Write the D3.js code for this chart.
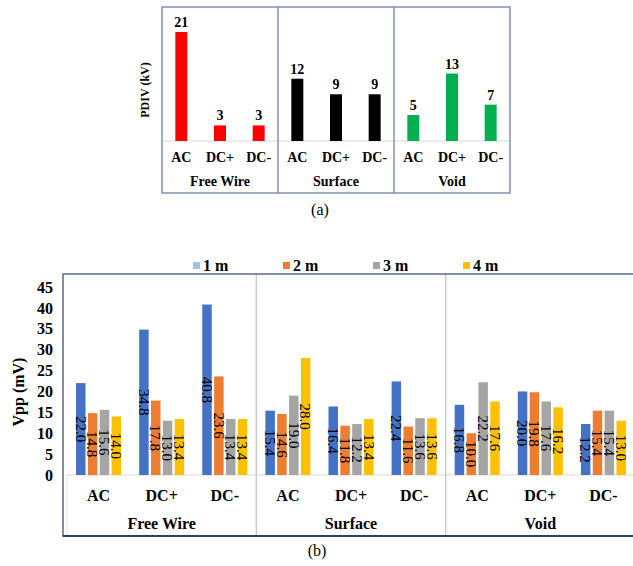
<!DOCTYPE html>
<html>
<head>
<meta charset="utf-8">
<script src="https://cdn.jsdelivr.net/npm/d3@7"></script>
<style>
  body { margin: 0; background: #fff; }
</style>
</head>
<body>
<div id="chart"></div>
<script>
// category / group names shared by both panels
const modes = ['AC', 'DC+', 'DC-'];
const defects = ['Free Wire', 'Surface', 'Void'];

// panel (a): PDIV in kV, one value per defect/mode
const pdivValues = [21, 3, 3, 12, 9, 9, 5, 13, 7];
const defectColors = ['#FF0000', '#000000', '#00B050'];

// panel (b): Vpp in mV per distance series
const seriesNames = ['1 m', '2 m', '3 m', '4 m'];
const vpp1m = [22.0, 34.8, 40.8, 15.4, 16.4, 22.4, 16.8, 20.0, 12.2];
const vpp2m = [14.8, 17.8, 23.6, 14.6, 11.8, 11.6, 10.0, 19.8, 15.4];
const vpp3m = [15.6, 13.0, 13.4, 19.0, 12.2, 13.6, 22.2, 17.6, 15.4];
const vpp4m = [14.0, 13.4, 13.4, 28.0, 13.4, 13.6, 17.6, 16.2, 13.0];
const vppTicks = [0, 5, 10, 15, 20, 25, 30, 35, 40, 45];
const seriesColors = ['#4472C4', '#ED7D31', '#A5A5A5', '#FFC000'];
const legendColors = ['#9DC3E6', '#ED7D31', '#A5A5A5', '#FFC000'];

const FONT = '"Liberation Serif"';
const W = 633, H = 566;
const svg = d3.select('#chart').append('svg')
    .attr('width', W).attr('height', H)
    .style('display', 'block');

const cats = d3.range(9);

// ---------- panel (a) ----------
const a = { left: 162, right: 510, top: 7, bottom: 193, base: 141 };
const xa = d3.scaleBand().domain(cats).range([a.left, a.right]);
const ya = d3.scaleLinear().domain([0, 21]).range([a.base, 32]);

const gA = svg.append('g');

gA.append('line')
    .attr('x1', a.left).attr('x2', a.right)
    .attr('y1', a.base).attr('y2', a.base)
    .attr('stroke', '#d9d9d9').attr('stroke-width', 1);

const barW = 12;
gA.selectAll('rect.pdiv')
    .data(pdivValues)
    .join('rect')
    .attr('class', 'pdiv')
    .attr('x', (d, i) => xa(i) + xa.bandwidth() / 2 - barW / 2)
    .attr('width', barW)
    .attr('y', d => ya(d))
    .attr('height', d => a.base - ya(d))
    .attr('fill', (d, i) => defectColors[Math.floor(i / 3)]);

gA.selectAll('text.pval')
    .data(pdivValues)
    .join('text')
    .attr('class', 'pval')
    .attr('x', (d, i) => xa(i) + xa.bandwidth() / 2)
    .attr('y', d => ya(d) - 5)
    .attr('text-anchor', 'middle')
    .attr('font-size', 14).attr('font-weight', 'bold')
    .text(d => d);

gA.selectAll('text.pcat')
    .data(cats)
    .join('text')
    .attr('class', 'pcat')
    .attr('x', i => xa(i) + xa.bandwidth() / 2)
    .attr('y', 162)
    .attr('text-anchor', 'middle')
    .attr('font-size', 14).attr('font-weight', 'bold')
    .text(i => modes[i % 3]);

gA.selectAll('text.pgrp')
    .data(defects)
    .join('text')
    .attr('class', 'pgrp')
    .attr('x', (d, j) => xa(j * 3) + xa.bandwidth() * 1.5)
    .attr('y', 186)
    .attr('text-anchor', 'middle')
    .attr('font-size', 14).attr('font-weight', 'bold')
    .text(d => d);

// dividers between groups
[3, 6].forEach(i => {
    gA.append('line')
        .attr('x1', xa(i)).attr('x2', xa(i))
        .attr('y1', a.top).attr('y2', a.bottom)
        .attr('stroke', '#8190ab').attr('stroke-width', 1.5);
});

gA.append('rect')
    .attr('x', a.left).attr('y', a.top)
    .attr('width', a.right - a.left).attr('height', a.bottom - a.top)
    .attr('fill', 'none').attr('stroke', '#8190ab').attr('stroke-width', 1.5);

gA.append('text')
    .attr('transform', `translate(149,90) rotate(-90)`)
    .attr('text-anchor', 'middle')
    .attr('font-size', 12).attr('font-weight', 'bold')
    .text('PDIV (kV)');

svg.append('text')
    .attr('x', 320).attr('y', 215)
    .attr('text-anchor', 'middle')
    .attr('font-size', 16)
    .text('(a)');

// ---------- panel (b) ----------
const b = { frameLeft: 63, left: 67, right: 635, top: 274, bottom: 536, base: 475 };
const vppSeries = [vpp1m, vpp2m, vpp3m, vpp4m];
const xb = d3.scaleBand().domain(cats).range([b.left, b.right]);
const xs = d3.scaleBand().domain(d3.range(4)).range([-22.5, 22.5]).paddingInner(0.2);
const yb = d3.scaleLinear().domain([0, 45]).range([b.base, 287]);

const gB = svg.append('g');

// legend
const legend = gB.selectAll('g.leg')
    .data(seriesNames)
    .join('g')
    .attr('class', 'leg')
    .attr('transform', (d, i) => `translate(${193 + i * 90},262)`);
legend.append('rect')
    .attr('width', 7).attr('height', 7)
    .attr('fill', (d, i) => legendColors[i]);
legend.append('text')
    .attr('x', 10).attr('y', 8.5)
    .attr('font-size', 16).attr('font-weight', 'bold')
    .text(d => d);

// y axis
const yAxis = d3.axisLeft(yb).tickValues(vppTicks).tickSize(0).tickPadding(0);
gB.append('g')
    .attr('transform', 'translate(53,0)')
    .call(yAxis)
    .call(g => g.select('.domain').remove())
    .selectAll('text')
    .attr('font-size', 16).attr('font-weight', 'bold')
    .attr('fill', '#000');

gB.append('text')
    .attr('transform', 'translate(24,392) rotate(-90)')
    .attr('text-anchor', 'middle')
    .attr('font-size', 16).attr('font-weight', 'bold')
    .text('Vpp (mV)');

gB.append('line')
    .attr('x1', b.left).attr('x2', b.right)
    .attr('y1', b.base).attr('y2', b.base)
    .attr('stroke', '#d9d9d9').attr('stroke-width', 1);
gB.append('line')
    .attr('x1', b.left).attr('x2', b.left)
    .attr('y1', b.base).attr('y2', b.bottom)
    .attr('stroke', '#e3e3e3').attr('stroke-width', 1);

// bars and rotated value labels
vppSeries.forEach((vals, s) => {
    const cx = i => xb(i) + xb.bandwidth() / 2 + xs(s);
    gB.selectAll(`rect.s${s}`)
        .data(vals)
        .join('rect')
        .attr('class', `s${s}`)
        .attr('x', (d, i) => cx(i))
        .attr('width', xs.bandwidth())
        .attr('y', d => yb(d))
        .attr('height', d => b.base - yb(d))
        .attr('fill', seriesColors[s]);
});
vppSeries.forEach((vals, s) => {
    const cx = i => xb(i) + xb.bandwidth() / 2 + xs(s) + xs.bandwidth() / 2;
    gB.selectAll(`text.l${s}`)
        .data(vals)
        .join('text')
        .attr('class', `l${s}`)
        .attr('transform', (d, i) => `translate(${cx(i)},${yb(d / 2)}) rotate(90)`)
        .attr('text-anchor', 'middle')
        .attr('dy', '0.35em')
        .attr('font-size', 15)
        .attr('fill', '#000')
        .text(d => d.toFixed(1));
});

gB.selectAll('text.vcat')
    .data(cats)
    .join('text')
    .attr('class', 'vcat')
    .attr('x', i => xb(i) + xb.bandwidth() / 2)
    .attr('y', 501)
    .attr('text-anchor', 'middle')
    .attr('font-size', 16).attr('font-weight', 'bold')
    .text(i => modes[i % 3]);

gB.selectAll('text.vgrp')
    .data(defects)
    .join('text')
    .attr('class', 'vgrp')
    .attr('x', (d, j) => xb(j * 3) + xb.bandwidth() * 1.5)
    .attr('y', 529)
    .attr('text-anchor', 'middle')
    .attr('font-size', 16).attr('font-weight', 'bold')
    .text(d => d);

[3, 6].forEach(i => {
    gB.append('line')
        .attr('x1', xb(i)).attr('x2', xb(i))
        .attr('y1', b.top).attr('y2', b.bottom)
        .attr('stroke', '#c5cad3').attr('stroke-width', 1.5);
});

// frame: top, left and bottom edges (right edge runs off the page)
gB.append('path')
    .attr('d', `M${W + 5},${b.top}H${b.frameLeft}V${b.bottom}H${W + 5}`)
    .attr('fill', 'none').attr('stroke', '#5a6a88').attr('stroke-width', 1.5);
gB.append('line')
    .attr('x1', b.frameLeft).attr('x2', W)
    .attr('y1', b.bottom).attr('y2', b.bottom)
    .attr('stroke', '#2f3f63').attr('stroke-width', 2);

svg.append('text')
    .attr('x', 317).attr('y', 556)
    .attr('text-anchor', 'middle')
    .attr('font-size', 16)
    .text('(b)');

// Times-like serif on every text element
svg.selectAll('text').style('font-family', FONT);
</script>
</body>
</html>
